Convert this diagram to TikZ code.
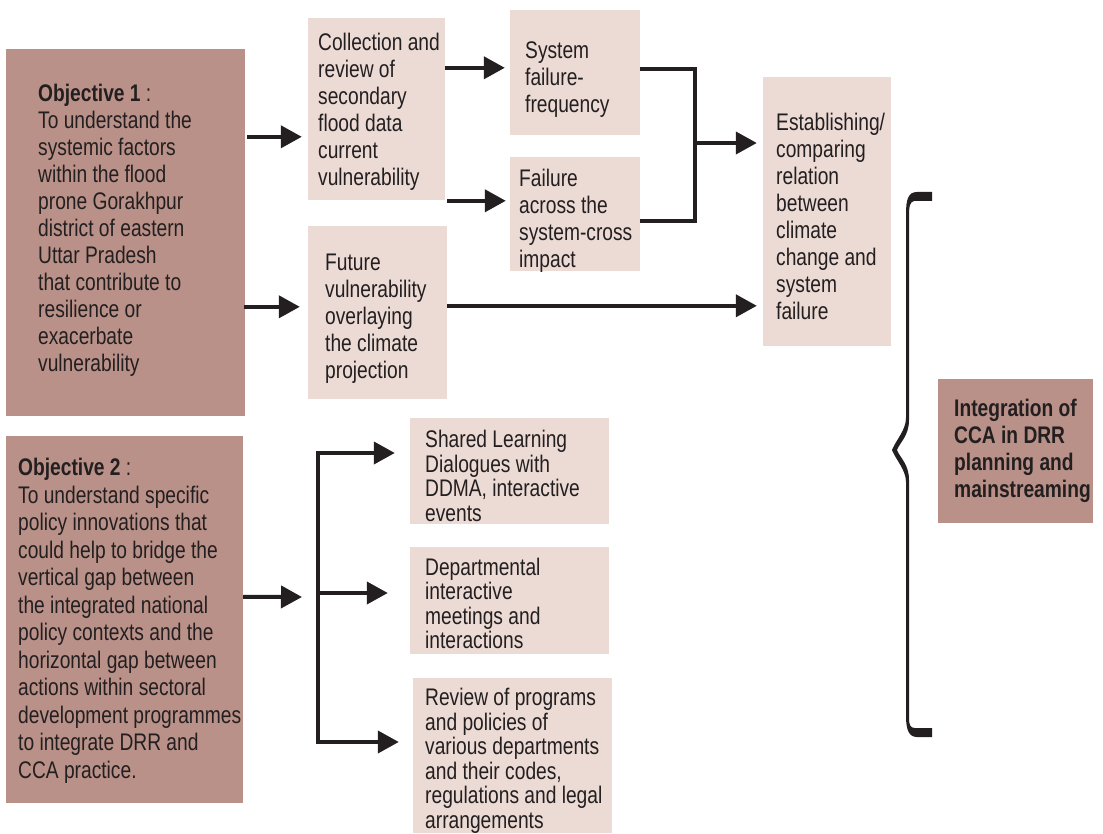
\documentclass[tikz,border=0pt]{standalone}
\usepackage{fontspec}
\setmainfont{Liberation Sans}[FakeStretch=0.80]
\usetikzlibrary{arrows.meta,calc}
\definecolor{darkfill}{RGB}{185,145,136}
\definecolor{lightfill}{RGB}{236,218,212}
\definecolor{ink}{RGB}{35,31,32}
\begin{document}
\begin{tikzpicture}[x=1pt,y=-1pt,
  dbox/.style={fill=darkfill, draw=none, inner sep=0pt},
  lbox/.style={fill=lightfill, draw=none, inner sep=0pt},
  txt/.style={anchor=west, align=left, inner sep=0pt, text=ink, font=\fontsize{24}{27}\selectfont},
  txtb/.style={txt, font=\fontsize{24}{24.5}\selectfont},
  conn/.style={line width=4pt, draw=ink},
  arr/.style={conn, -{Triangle[length=21pt,width=22pt]}}]
\fill[white] (0,0) rectangle (1103,834);
\useasboundingbox (0,0) rectangle (1103,834);

% boxes
\node[dbox, minimum width=239pt, minimum height=367pt] (o1) at (125.5,232.5) {};
\node[dbox, minimum width=237pt, minimum height=367pt] (o2) at (124.5,619.5) {};
\node[lbox, minimum width=137pt, minimum height=182pt] (col) at (376.5,109) {};
\node[lbox, minimum width=130pt, minimum height=125pt] (sys) at (575,72.5) {};
\node[lbox, minimum width=130pt, minimum height=114pt] (fail) at (575,214) {};
\node[lbox, minimum width=139pt, minimum height=173pt] (fut) at (377.5,312.5) {};
\node[lbox, minimum width=128pt, minimum height=269pt] (est) at (827,211.5) {};
\node[dbox, minimum width=155pt, minimum height=144pt] (integ) at (1015.5,451) {};
\node[lbox, minimum width=199pt, minimum height=106pt] (sl) at (509.5,471) {};
\node[lbox, minimum width=199pt, minimum height=107pt] (dep) at (509.5,600.5) {};
\node[lbox, minimum width=199pt, minimum height=155pt] (rev) at (512.5,755.5) {};

% texts
\node[txt] (o1t) at (38,230) {\textbf{Objective 1} :\\To understand the\\systemic factors\\within the flood\\prone Gorakhpur\\district of eastern\\Uttar Pradesh\\that contribute to\\resilience or\\exacerbate\\vulnerability};
\node[txt, font=\fontsize{24}{27.5}\selectfont] (o2t) at (18,621) {\textbf{Objective 2} :\\To understand specific\\policy innovations that\\could help to bridge the\\vertical gap between\\the integrated national\\policy contexts and the\\horizontal gap between\\actions within sectoral\\development programmes\\to integrate DRR and\\CCA practice.};
\node[txt] (colt) at (318,111.5) {Collection and\\review of\\secondary\\flood data\\current\\vulnerability};
\node[txt] (syst) at (525,79.5) {System\\failure-\\frequency};
\node[txt] (failt) at (519,220.5) {Failure\\across the\\system-cross\\impact};
\node[txt] (futt) at (325,318.5) {Future\\vulnerability\\overlaying\\the climate\\projection};
\node[txt] (estt) at (776,216) {Establishing/\\comparing\\relation\\between\\climate\\change and\\system\\failure};
\node[txt, font=\bfseries\fontsize{24}{27}\selectfont] (integt) at (954,450.5) {Integration of\\CCA in DRR\\planning and\\mainstreaming};
\node[txtb] (slt) at (425,476) {Shared Learning\\Dialogues with\\DDMA, interactive\\events};
\node[txtb] (dept) at (425,603.5) {Departmental\\interactive\\meetings and\\interactions};
\node[txtb] (revt) at (425,761) {Review of programs\\and policies of\\various departments\\and their codes,\\regulations and legal\\arrangements};

% helper coordinates
\coordinate (p1) at ($(o1.north east)+(2,88)$);
\coordinate (p2) at ($(o1.north east)+(-1,258)$);
\coordinate (p3) at ($(col.north east)+(0,50)$);
\coordinate (p4) at ($(col.north east)+(2,183)$);
\coordinate (p6) at ($(fut.north east)+(0,80)$);
\coordinate (j1) at (695,69);
\coordinate (j2) at (695,221);
\coordinate (jm) at (695,143);
\coordinate (q0) at ($(o2.north east)+(0,161)$);
\coordinate (b0) at (302,597);
\coordinate (bt) at (318,453);
\coordinate (bm) at (318,593);
\coordinate (bb) at (318,742);

% connectors
\draw[arr, shorten >=6pt] (p1) -- (col.west |- p1);
\draw[arr, shorten >=8pt] (p2) -- (fut.west |- p2);
\draw[arr, shorten >=5pt] (p3) -- (sys.west |- p3);
\draw[arr, shorten >=4pt] (p4) -- (fail.west |- p4);
\draw[conn] (sys.east |- j1) -- (j1) -- (j2) -- (fail.east |- j2);
\draw[arr, shorten >=6pt] (jm) -- (est.west |- jm);
\draw[arr, shorten >=6pt] (p6) -- (est.west |- p6);
\draw[arr] (q0) -- (b0);
\draw[arr, shorten >=15pt] (bb) -- (bt) -- (sl.west |- bt);
\draw[arr, shorten >=22pt] (bm) -- (dep.west |- bm);
\draw[arr, shorten >=14pt] (bt) -- (bb) -- (rev.west |- bb);

% brace
\fill[ink] (932,192) -- (932,201) -- (914,201)
  .. controls (910,202) and (909,206) .. (909,216) -- (909,420)
  .. controls (909,436) and (900,442) .. (897,450)
  .. controls (900,458) and (909,464) .. (909,480) -- (909,718)
  .. controls (909,726) and (911,728) .. (915,728) -- (932,728) -- (932,737) -- (917,737)
  .. controls (909,737) and (906,730) .. (906,716) -- (906,482)
  .. controls (906,470) and (896,460) .. (892,450)
  .. controls (896,440) and (906,430) .. (906,418) -- (906,214)
  .. controls (906,200) and (908,192) .. (917,192) -- cycle;
\end{tikzpicture}
\end{document}
